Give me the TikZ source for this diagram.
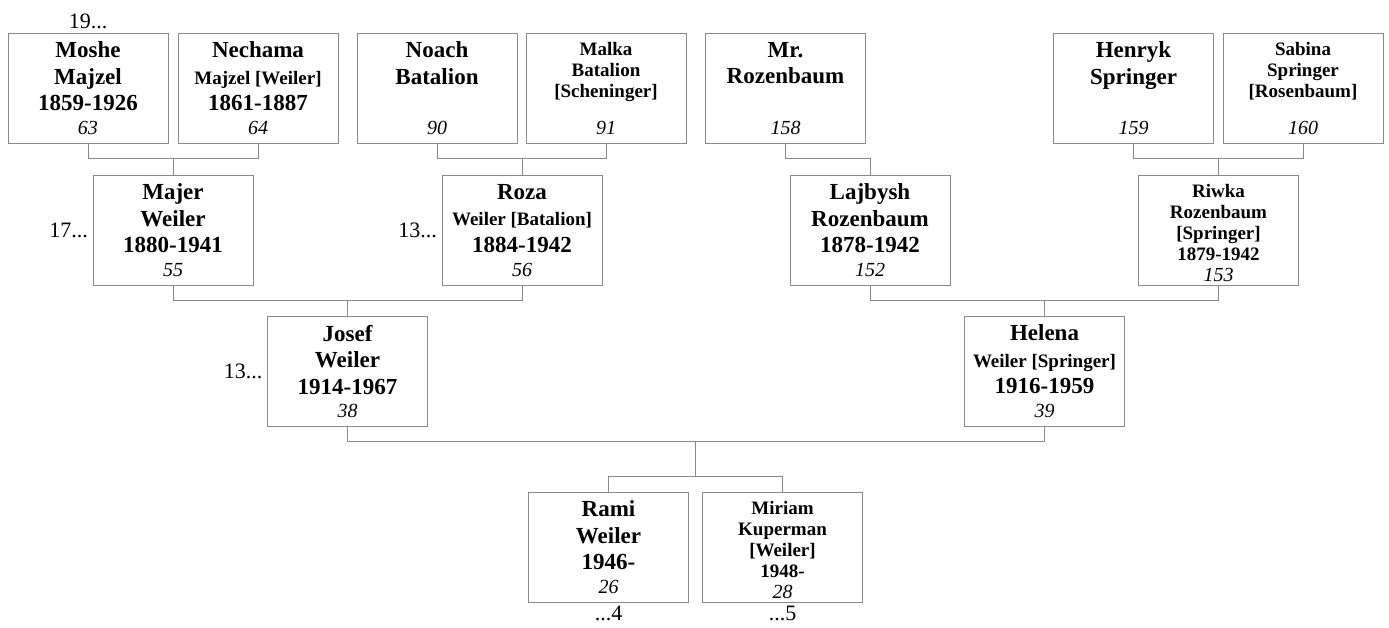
\documentclass[tikz,border=0pt]{standalone}
\usepackage{fontspec}
\setmainfont{Liberation Serif}
\usetikzlibrary{positioning,calc}
\definecolor{linegray}{HTML}{8A8A8A}
\newcommand{\nmbig}{\fontsize{23}{26.5}\selectfont\bfseries}
\newcommand{\nmmid}{\fontsize{19}{26.5}\selectfont\bfseries}
\newcommand{\nmsmall}{\fontsize{19}{21}\selectfont\bfseries}
\newcommand{\idno}[1]{\par\vfill{\fontsize{20}{21}\selectfont\mdseries\itshape #1\par}\vspace*{8pt}}
\newcommand{\card}[1]{\parbox[c][110pt][s]{160pt}{\vspace*{9pt}\centering #1}}
\begin{document}
\begin{tikzpicture}[x=1pt,y=-1pt,
	person/.style={draw=linegray,line width=1pt,inner sep=0pt,outer sep=0pt},
	conn/.style={draw=linegray,line width=1pt},
	gen/.style={font=\fontsize{22}{24}\selectfont,inner sep=0pt}]

	\useasboundingbox (0,0) rectangle (1389,627);

	% grandparents' parents
	\node[person] (moshe)   at (88,88)    {\card{\nmbig Moshe\par Majzel\par 1859-1926\idno{63}}};
	\node[person] (nechama) at (258,88)   {\card{\nmbig Nechama\par\nmmid Majzel [Weiler]\par\nmbig 1861-1887\idno{64}}};
	\node[person] (noach)   at (437,88)   {\card{\nmbig Noach\par Batalion\idno{90}}};
	\node[person] (malka)   at (606,88)   {\card{\nmsmall Malka\par Batalion\par [Scheninger]\idno{91}}};
	\node[person] (mrroz)   at (785.5,88) {\card{\nmbig Mr.\par Rozenbaum\idno{158}}};
	\node[person] (henryk)  at (1133.5,88) {\card{\nmbig Henryk\par Springer\idno{159}}};
	\node[person] (sabina)  at (1303,88)  {\card{\nmsmall Sabina\par Springer\par [Rosenbaum]\idno{160}}};

	% grandparents
	\node[person] (majer)   at (173,230)  {\card{\nmbig Majer\par Weiler\par 1880-1941\idno{55}}};
	\node[person] (roza)    at (522,230)  {\card{\nmbig Roza\par\nmmid Weiler [Batalion]\par\nmbig 1884-1942\idno{56}}};
	\node[person] (lajbysh) at (870,230)  {\card{\nmbig Lajbysh\par Rozenbaum\par 1878-1942\idno{152}}};
	\node[person] (riwka)   at (1218.5,230) {\card{\nmsmall Riwka\par Rozenbaum\par [Springer]\par 1879-1942\idno{153}}};

	% parents
	\node[person] (josef)   at (347.5,371) {\card{\nmbig Josef\par Weiler\par 1914-1967\idno{38}}};
	\node[person] (helena)  at (1044.5,371) {\card{\nmbig Helena\par\nmmid Weiler [Springer]\par\nmbig 1916-1959\idno{39}}};

	% children
	\node[person] (rami)    at (608.5,547) {\card{\nmbig Rami\par Weiler\par 1946-\idno{26}}};
	\node[person] (miriam)  at (782.5,547) {\card{\nmsmall Miriam\par Kuperman\par [Weiler]\par 1948-\idno{28}}};

	% generation marks
	\node[gen,anchor=base] (g19) at (88,28) {19...};
	\node[gen,left=5pt of majer] (g17) {17...};
	\node[gen,left=5pt of roza] (g13a) {13...};
	\node[gen,left=5pt of josef] (g13b) {13...};
	\node[gen,below=4pt of rami] (g4) {...4};
	\node[gen,below=4pt of miriam] (g5) {...5};

	% lines
	\draw[conn] (moshe.south) -- ++(0,15) -| (nechama.south);
	\draw[conn] (majer.north) -- ++(0,-17);
	\draw[conn] (noach.south) -- ++(0,15) -| (malka.south);
	\draw[conn] (roza.north) -- ++(0,-17);
	\draw[conn] (mrroz.south) -- ++(0,15) -| (lajbysh.north);
	\draw[conn] (henryk.south) -- ++(0,15) -| (sabina.south);
	\draw[conn] (riwka.north) -- ++(0,-17);

	\draw[conn] (majer.south) -- ++(0,15) -| (roza.south);
	\draw[conn] (josef.north) -- ++(0,-16);
	\draw[conn] (lajbysh.south) -- ++(0,15) -| (riwka.south);
	\draw[conn] (helena.north) -- ++(0,-16);

	\draw[conn] (josef.south) -- ++(0,15) -| (helena.south);
	\coordinate (kids) at ($(rami.north)!0.5!(miriam.north)+(0,-16)$);
	\draw[conn] (rami.north) -- ++(0,-16) -| (miriam.north);
	\draw[conn] (kids) -- ++(0,-35);

\end{tikzpicture}
\end{document}
